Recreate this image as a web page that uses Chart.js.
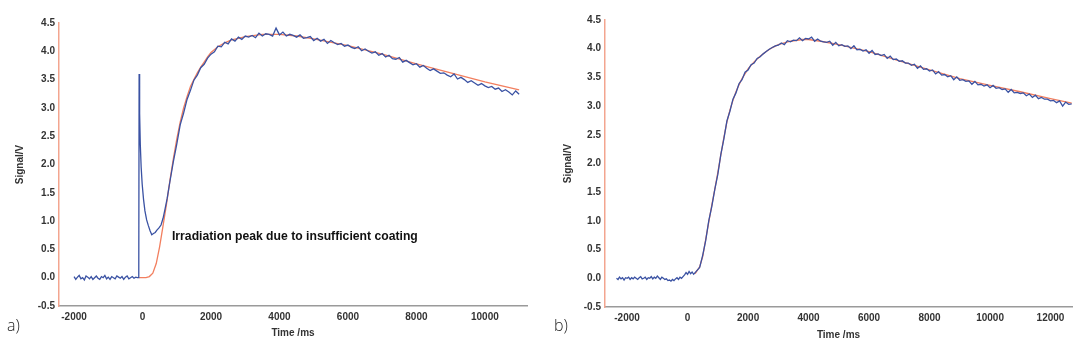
<!DOCTYPE html>
<html>
<head>
<meta charset="utf-8">
<script src="https://cdn.jsdelivr.net/npm/chart.js@4/dist/chart.umd.min.js"></script>
<style>
  body { margin: 0; background: #fff; width: 1084px; height: 347px; position: relative; overflow: hidden; }
  canvas { position: absolute; top: 0; }
  #chartA { left: 0; }
  #chartB { left: 540px; }
  .panel-label { position: absolute; top: 314px; font: 300 16px "Open Sans", sans-serif; color: #222; }
</style>
</head>
<body>
<canvas id="chartA" width="540" height="347"></canvas>
<canvas id="chartB" width="544" height="347"></canvas>
<div class="panel-label" style="left:7px">a)</div>
<div class="panel-label" style="left:554px">b)</div>
<script>
// ---------- panel a) ----------
// baseline before irradiation, sampled every 50 ms from -2000 ms
const baseA_start = -2000, baseA_step = 50;
const baseA_signal = [
  0.02, -0.03, 0.01, 0.04, -0.02, 0.00, -0.04, 0.03, 0.01, -0.02,
  0.02, -0.03, 0.00, 0.03, -0.01, -0.03, 0.02, 0.00, 0.04, -0.02,
  0.01, -0.03, 0.02, 0.00, -0.02, 0.03, 0.01, -0.01, 0.02, -0.03,
  0.01, 0.03, -0.02, 0.00, 0.02, -0.01, 0.01, 0.00
];
// irradiation peak
const peakA_time = [-110, -100, -85, -65, -40, -10, 30, 70, 120, 170, 220, 270, 320, 370, 420, 480, 540, 600, 660, 720, 760];
const peakA_signal = [0.0, 3.6, 2.9, 2.35, 1.95, 1.65, 1.38, 1.18, 1.02, 0.92, 0.83, 0.76, 0.78, 0.80, 0.84, 0.88, 0.93, 1.05, 1.22, 1.40, 1.55];
// main signal, every 100 ms from 800 ms
const mainA_start = 800, mainA_step = 100;
const mainA_signal = [
  1.70, 2.05, 2.36, 2.70, 2.91, 3.15, 3.31, 3.49, 3.58, 3.71,
  3.77, 3.88, 3.95, 3.99, 4.09, 4.08, 4.16, 4.13, 4.22, 4.18,
  4.25, 4.21, 4.27, 4.25, 4.28, 4.24, 4.32, 4.27, 4.31, 4.30,
  4.27, 4.41, 4.29, 4.34, 4.27, 4.30, 4.28, 4.25, 4.29, 4.23,
  4.24, 4.26, 4.19, 4.23, 4.18, 4.21, 4.14, 4.19, 4.15, 4.12,
  4.14, 4.09, 4.11, 4.07, 4.05, 4.08, 4.01, 4.04, 4.00, 3.97,
  3.99, 3.93, 3.96, 3.90, 3.93, 3.87, 3.86, 3.89, 3.81, 3.84,
  3.80, 3.76, 3.78, 3.72, 3.75, 3.70, 3.66, 3.69, 3.65, 3.61,
  3.62, 3.58, 3.55, 3.60, 3.51, 3.54, 3.50, 3.45, 3.48, 3.44,
  3.40, 3.43, 3.39, 3.36, 3.38, 3.33, 3.35, 3.29, 3.32, 3.28,
  3.23, 3.30, 3.24
];
const fitA_time = [-100, 100, 200, 300, 400, 500, 600, 700, 800, 900, 1000, 1100, 1200, 1300, 1400, 1500, 1600, 1700, 1800, 1900, 2000, 2200, 2400, 2600, 2800, 3000, 3500, 4000, 4500, 5000, 6000, 7000, 8000, 9000, 10000, 11000];
const fitA_signal = [0, 0, 0.02, 0.08, 0.25, 0.55, 0.92, 1.3, 1.72, 2.1, 2.45, 2.75, 3.0, 3.2, 3.38, 3.5, 3.62, 3.72, 3.81, 3.9, 3.98, 4.08, 4.15, 4.2, 4.23, 4.26, 4.3, 4.3, 4.27, 4.22, 4.1, 3.95, 3.78, 3.62, 3.46, 3.32];
const xTicksA = [-2000, 0, 2000, 4000, 6000, 8000, 10000];

// ---------- panel b) ----------
const baseB_start = -2350, baseB_step = 50;
const baseB_signal = [
  0.00, -0.02, 0.02, -0.01, 0.01, -0.03, 0.01, 0.00, 0.02, -0.02,
  0.01, -0.01, 0.02, 0.00, -0.02, 0.01, 0.03, -0.01, 0.00, 0.02,
  -0.02, 0.01, 0.00, 0.03, -0.01, 0.02, 0.00, 0.04, 0.01, -0.02,
  0.02, 0.00, -0.02, -0.01, -0.04, -0.03, -0.05, -0.02, -0.04, -0.01,
  0.01, -0.02, 0.02, 0.00, 0.03, 0.06, 0.10, 0.07, 0.12, 0.08,
  0.11, 0.07, 0.10
];
const mainB_start = 300, mainB_step = 100;
const mainB_signal = [
  0.13, 0.19, 0.40, 0.66, 1.00, 1.25, 1.55, 1.81, 2.16, 2.43,
  2.74, 2.91, 3.12, 3.23, 3.39, 3.46, 3.59, 3.63, 3.72, 3.75,
  3.83, 3.86, 3.91, 3.95, 3.99, 4.02, 4.05, 4.06, 4.10, 4.07,
  4.14, 4.12, 4.15, 4.14, 4.19, 4.14, 4.18, 4.17, 4.20, 4.13,
  4.17, 4.13, 4.12, 4.11, 4.13, 4.06, 4.11, 4.05, 4.07, 4.04,
  4.05, 4.00, 4.05, 3.98, 3.99, 3.96, 3.98, 3.92, 3.97, 3.90,
  3.91, 3.88, 3.90, 3.83, 3.87, 3.81, 3.82, 3.78, 3.79, 3.75,
  3.75, 3.71, 3.73, 3.66, 3.70, 3.64, 3.65, 3.61, 3.63, 3.56,
  3.60, 3.54, 3.55, 3.51, 3.53, 3.46, 3.51, 3.45, 3.46, 3.43,
  3.44, 3.38, 3.43, 3.37, 3.38, 3.35, 3.37, 3.32, 3.36, 3.31,
  3.32, 3.29, 3.30, 3.24, 3.29, 3.23, 3.24, 3.22, 3.23, 3.18,
  3.21, 3.15, 3.19, 3.13, 3.15, 3.12, 3.12, 3.09, 3.10, 3.06,
  3.09, 3.00, 3.07, 3.03, 3.04
];
const fitB_time = [250, 400, 500, 600, 700, 800, 900, 1000, 1100, 1200, 1300, 1400, 1500, 1600, 1700, 1800, 2000, 2200, 2400, 2600, 2800, 3000, 3400, 3800, 4000, 4400, 5000, 6000, 7000, 8000, 9000, 10000, 11000, 12000, 12700];
const fitB_signal = [0.08, 0.2, 0.38, 0.68, 0.98, 1.27, 1.55, 1.84, 2.15, 2.45, 2.72, 2.93, 3.10, 3.25, 3.37, 3.48, 3.65, 3.77, 3.87, 3.95, 4.02, 4.07, 4.13, 4.16, 4.16, 4.13, 4.07, 3.95, 3.79, 3.63, 3.48, 3.36, 3.25, 3.13, 3.05];
const xTicksB = [-2000, 0, 2000, 4000, 6000, 8000, 10000, 12000];

const yTicks = [-0.5, 0, 0.5, 1, 1.5, 2, 2.5, 3, 3.5, 4, 4.5];
const annotationText = "Irradiation peak due to insufficient coating";

const BLUE = "#3a52a3";
const ORANGE = "#f27f5f";

function sampled(start, step, values) {
  return values.map((v, i) => ({ x: start + i * step, y: v }));
}
function paired(times, values) {
  return times.map((t, i) => ({ x: t, y: values[i] }));
}

const tickFont = { family: "'Liberation Sans', Arial, sans-serif", size: 10, weight: "bold" };

function makeChart(id, blueData, fitData, opt) {
  const ctx = document.getElementById(id).getContext("2d");
  return new Chart(ctx, {
    type: "scatter",
    data: {
      datasets: [
        {
          data: blueData,
          showLine: true,
          borderColor: BLUE,
          borderWidth: 1.3,
          pointRadius: 0,
          order: 1,
        },
        {
          data: fitData,
          showLine: true,
          borderColor: ORANGE,
          borderWidth: 1.3,
          pointRadius: 0,
          order: 2,
        },
      ],
    },
    options: {
      responsive: false,
      animation: false,
      devicePixelRatio: 1,
      layout: { padding: opt.padding },
      plugins: { legend: { display: false }, tooltip: { enabled: false } },
      scales: {
        x: {
          type: "linear",
          min: opt.xMin,
          max: opt.xMax,
          grid: { display: false, drawTicks: false },
          border: { display: true, color: "#9a9a9a", width: 1.5 },
          afterBuildTicks: (s) => { s.ticks = opt.xTicks.map((v) => ({ value: v })); },
          ticks: {
            autoSkip: false,
            maxRotation: 0,
            padding: 5,
            color: "#333",
            font: tickFont,
            callback: (v) => String(v),
          },
          title: {
            display: true,
            text: "Time /ms",
            color: "#333",
            font: tickFont,
            padding: { top: 0, bottom: opt.xTitlePad },
          },
          afterFit: (s) => { s.height = opt.xHeight; },
        },
        y: {
          type: "linear",
          min: -0.5,
          max: 4.5,
          grid: { display: false, drawTicks: false },
          border: { display: true, color: "#f3a58f", width: 1.5 },
          afterBuildTicks: (s) => { s.ticks = yTicks.map((v) => ({ value: v })); },
          ticks: {
            padding: 4,
            color: "#333",
            font: tickFont,
            callback: (v) => Number(v).toFixed(1),
          },
          title: {
            display: true,
            text: "Signal/V",
            color: "#333",
            font: tickFont,
            padding: { top: opt.yTitlePad, bottom: 0 },
          },
          afterFit: (s) => { s.width = opt.yWidth; },
        },
      },
    },
    plugins: opt.plugins || [],
  });
}

// text label placed in data coordinates
const annotationPlugin = {
  id: "irradiationNote",
  afterDatasetsDraw(chart) {
    const c = chart.ctx;
    const x = chart.scales.x.getPixelForValue(860);
    const y = chart.scales.y.getPixelForValue(0.72);
    c.save();
    c.font = "bold 12.2px 'Liberation Sans', Arial, sans-serif";
    c.fillStyle = "#111";
    c.textBaseline = "middle";
    c.fillText(annotationText, x, y);
    c.restore();
  },
};

const blueA = sampled(baseA_start, baseA_step, baseA_signal)
  .concat(paired(peakA_time, peakA_signal))
  .concat(sampled(mainA_start, mainA_step, mainA_signal));
const blueB = sampled(baseB_start, baseB_step, baseB_signal)
  .concat(sampled(mainB_start, mainB_step, mainB_signal));

makeChart("chartA", blueA, paired(fitA_time, fitA_signal), {
  xMin: -2440, xMax: 11230, xTicks: xTicksA,
  padding: { top: 23, right: 13, bottom: 0, left: 0 },
  xHeight: 41, yWidth: 59, xTitlePad: 8, yTitlePad: 14,
  plugins: [annotationPlugin],
});

makeChart("chartB", blueB, paired(fitB_time, fitB_signal), {
  xMin: -2730, xMax: 12710, xTicks: xTicksB,
  padding: { top: 20, right: 12, bottom: 0, left: 0 },
  xHeight: 40, yWidth: 65, xTitlePad: 6, yTitlePad: 22,
});
</script>
</body>
</html>
